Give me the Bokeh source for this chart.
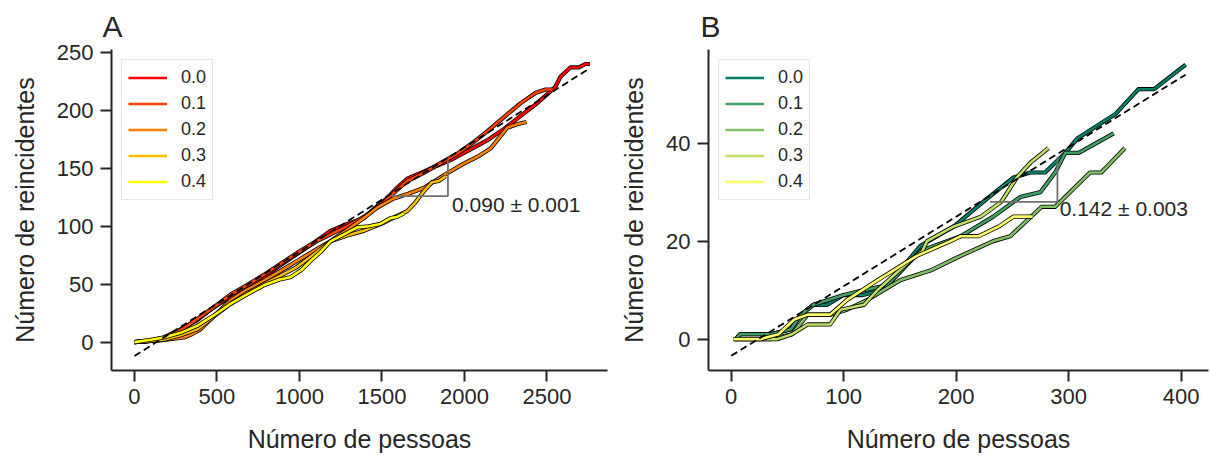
from bokeh.plotting import figure
from bokeh.models import Range1d, Legend, LegendItem, FixedTicker
from bokeh.layouts import row
from bokeh.core.properties import value
from bokeh.embed import file_html
from bokeh.resources import INLINE

# ---------------- data: panel A ----------------
labels = ["0.0", "0.1", "0.2", "0.3", "0.4"]

a0_x = [0, 90, 178, 280, 380, 480, 582, 680, 784, 880, 986, 1090, 1188, 1290, 1390, 1460, 1531, 1590, 1653, 1753, 1830, 1915, 2020, 2137, 2240, 2339, 2430, 2511, 2550, 2582, 2642, 2693, 2733, 2760]
a0_y = [0, 1, 4, 11, 19, 30, 39, 48, 56, 66, 76, 86, 96, 102, 107, 116, 124, 133, 141, 147, 152, 157, 165, 174, 184, 195, 205, 215, 220, 229, 237, 237, 240, 240]
a1_x = [0, 100, 200, 300, 400, 500, 582, 680, 784, 880, 986, 1090, 1188, 1290, 1390, 1490, 1590, 1653, 1753, 1850, 1950, 2050, 2140, 2238, 2339, 2430, 2491, 2531]
a1_y = [0, 1, 4, 12, 22, 32, 41, 49, 58, 67, 77, 86, 93, 100, 108, 118, 131, 139, 146, 154, 162, 172, 182, 194, 206, 215, 218, 218]
a2_x = [0, 100, 178, 240, 299, 350, 400, 480, 582, 680, 784, 880, 986, 1090, 1188, 1290, 1390, 1471, 1572, 1660, 1753, 1875, 1996, 2080, 2158, 2259, 2319, 2376]
a2_y = [0, 1, 2, 3, 4, 7, 11, 22, 36, 45, 53, 61, 70, 79, 87, 97, 107, 116, 124, 128, 133, 144, 154, 160, 167, 185, 188, 190]
a3_x = [0, 100, 178, 280, 380, 480, 582, 680, 784, 880, 986, 1090, 1188, 1290, 1390, 1511, 1580, 1653, 1700, 1753, 1804, 1845, 1885]
a3_y = [0, 1, 2, 6, 11, 22, 33, 42, 50, 57, 65, 76, 87, 92, 96, 103, 108, 113, 120, 130, 138, 139, 143]
a4_x = [0, 100, 178, 280, 380, 480, 582, 680, 784, 880, 945, 1010, 1067, 1130, 1188, 1270, 1350, 1420, 1491, 1552, 1592, 1632]
a4_y = [0, 2, 4, 8, 14, 23, 33, 41, 49, 54, 56, 62, 70, 78, 87, 93, 99, 100, 102, 107, 108, 111]

fit_a_slope, fit_a_intercept, fit_a_xmax = 0.090, -12.0, 2760
tri_a_x = [1560, 1900, 1900]
tri_a_y = [126, 126, 157]
note_a_x, note_a_y, note_a_text = 1925, 119, "0.090 ± 0.001"
ticks_a_x = [0, 500, 1000, 1500, 2000, 2500]
ticks_a_y = [0, 50, 100, 150, 200, 250]

# ---------------- data: panel B ----------------
b0_x = [4, 8, 35, 53, 62, 73, 85, 100, 117, 133, 150, 168, 198, 224, 251, 266, 279, 297, 308, 342, 362, 376, 404]
b0_y = [0, 1, 1, 2, 5, 7, 7, 9, 9, 10, 14, 19, 23, 28, 33, 34, 34, 38, 41, 46, 51, 51, 56]
b1_x = [4, 8, 35, 53, 62, 73, 100, 118, 139, 168, 204, 233, 257, 275, 288, 297, 309, 340]
b1_y = [0, 1, 1, 2, 5, 7, 9, 10, 11, 18, 21, 25, 29, 30, 34, 38, 38, 42]
b2_x = [3, 35, 54, 68, 88, 103, 121, 150, 177, 204, 233, 248, 276, 288, 319, 329, 350]
b2_y = [0, 0, 1, 5, 5, 6, 8, 12, 14, 17, 20, 21, 27, 27, 34, 34, 39]
b3_x = [2, 41, 54, 68, 88, 97, 118, 130, 159, 170, 174, 198, 222, 240, 254, 266, 282]
b3_y = [0, 0, 1, 3, 3, 6, 7, 10, 16, 18, 20, 23, 25, 28, 33, 36, 39]
b4_x = [2, 26, 42, 56, 68, 88, 103, 130, 165, 195, 204, 220, 238, 251, 268]
b4_y = [0, 0, 1, 4, 5, 5, 8, 12, 17, 20, 21, 21, 23, 25, 25]

fit_b_slope, fit_b_intercept, fit_b_xmax = 0.142, -3.4, 404
tri_b_x = [230, 290, 290]
tri_b_y = [28, 28, 37.2]
note_b_x, note_b_y, note_b_text = 292, 26.7, "0.142 ± 0.003"
ticks_b_x = [0, 100, 200, 300, 400]
ticks_b_y = [0, 20, 40]

colors_a = ["#ff0000", "#ff4000", "#ff8000", "#ffbf00", "#ffff00"]
colors_b = ["#008066", "#40a066", "#80bf66", "#bfdf66", "#ffff66"]

FONT = "Liberation Sans"
TXT = "#262626"


def style(p, title, title_offset, xticks, yticks):
    p.title.text = title
    p.title.text_font = FONT
    p.title.text_font_size = "30px"
    p.title.text_font_style = "normal"
    p.title.text_color = TXT
    p.title.align = "left"
    p.title.offset = title_offset
    p.title.standoff = 14
    p.grid.visible = False
    p.outline_line_color = None
    p.xaxis.ticker = FixedTicker(ticks=xticks)
    p.yaxis.ticker = FixedTicker(ticks=yticks)
    for ax in (p.xaxis, p.yaxis):
        ax.axis_line_width = 2
        ax.axis_line_color = TXT
        ax.major_tick_line_width = 2
        ax.major_tick_line_color = TXT
        ax.major_tick_out = 11
        ax.major_tick_in = 0
        ax.minor_tick_out = 0
        ax.minor_tick_in = 0
        ax.major_label_text_font = FONT
        ax.major_label_text_font_size = "22px"
        ax.major_label_text_color = TXT
        ax.major_label_standoff = 7
        ax.axis_label_text_font = FONT
        ax.axis_label_text_font_size = "25px"
        ax.axis_label_text_font_style = "normal"
        ax.axis_label_text_color = TXT
    p.xaxis.axis_label_standoff = 18
    p.yaxis.axis_label_standoff = 15
    p.xaxis.axis_label = "Número de pessoas"
    p.yaxis.axis_label = "Número de reincidentes"


def draw(p, series, colors, slope, intercept, xmax, tx, ty, nx, ny, ntext):
    items = []
    for (xs, ys), c, lab in zip(series, colors, labels):
        p.line(xs, ys, line_color="black", line_width=4.2, line_join="round")
        r = p.line(xs, ys, line_color=c, line_width=2.6, line_join="round")
        items.append(LegendItem(label=lab, renderers=[r]))
    fx = [0, xmax]
    fy = [slope * v + intercept for v in fx]
    p.line(fx, fy, line_color="black", line_width=1.8, line_dash="7 4")
    p.line(tx, ty, line_color="#707070", line_width=1.8)
    p.text(x=[nx], y=[ny], text=[ntext], text_font=value(FONT), text_font_size="21px",
           text_color=TXT, text_baseline="middle", text_align="left")
    leg = Legend(items=items, location="top_left")
    leg.margin = 10
    leg.padding = 6
    leg.spacing = 3
    leg.glyph_height = 23
    leg.glyph_width = 39
    leg.label_height = 23
    leg.label_standoff = 14
    leg.label_text_font = FONT
    leg.label_text_font_size = "18px"
    leg.label_text_color = TXT
    leg.border_line_color = "#cccccc"
    leg.border_line_width = 1
    leg.background_fill_alpha = 0.8
    p.add_layout(leg)


p1 = figure(width=612, height=455, output_backend="svg", toolbar_location=None,
            x_range=Range1d(-139, 2867), y_range=Range1d(-24.5, 252.5),
            min_border_left=111, min_border_right=5, min_border_top=49, min_border_bottom=81)
style(p1, "A", -9, ticks_a_x, ticks_a_y)
draw(p1, [(a0_x, a0_y), (a1_x, a1_y), (a2_x, a2_y), (a3_x, a3_y), (a4_x, a4_y)], colors_a,
     fit_a_slope, fit_a_intercept, fit_a_xmax, tri_a_x, tri_a_y, note_a_x, note_a_y, note_a_text)

p2 = figure(width=598, height=455, output_backend="svg", toolbar_location=None,
            x_range=Range1d(-20.2, 424.3), y_range=Range1d(-6.4, 59.1),
            min_border_left=96, min_border_right=2, min_border_top=49, min_border_bottom=81)
style(p2, "B", -8, ticks_b_x, ticks_b_y)
draw(p2, [(b0_x, b0_y), (b1_x, b1_y), (b2_x, b2_y), (b3_x, b3_y), (b4_x, b4_y)], colors_b,
     fit_b_slope, fit_b_intercept, fit_b_xmax, tri_b_x, tri_b_y, note_b_x, note_b_y, note_b_text)

layout = row(p1, p2)
open("out.html", "w").write(file_html(layout, INLINE))
